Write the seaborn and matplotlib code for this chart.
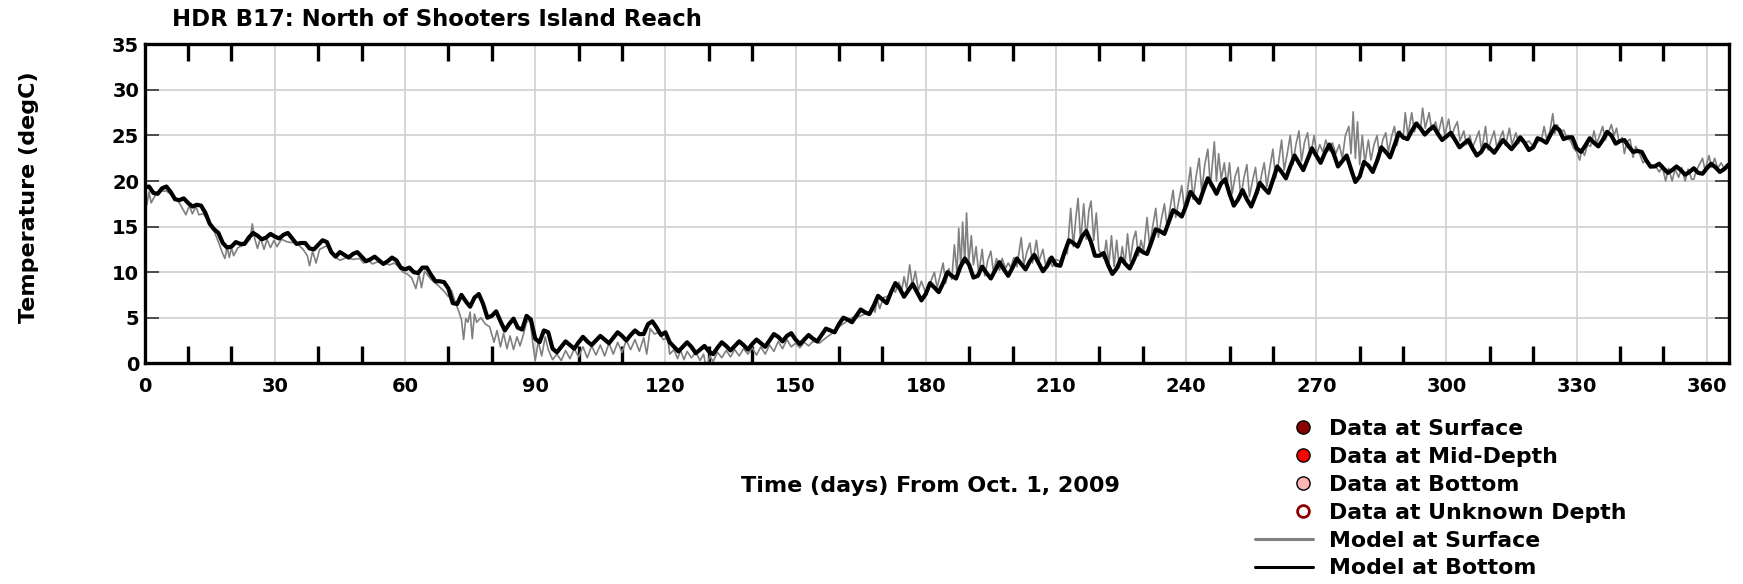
import matplotlib
matplotlib.use("Agg")
import matplotlib.pyplot as plt
from matplotlib.lines import Line2D
from matplotlib.legend_handler import HandlerLine2D
from matplotlib.ticker import FixedLocator
import seaborn as sns

# Model at bottom (black), one reading per day, days 0..365
bottom_day = list(range(366))
bottom_temp = [
    19.3, 19.4, 18.7, 18.6, 19.2, 19.4, 18.8, 18.0, 17.9, 18.1,   # 0
    17.6, 17.2, 17.4, 17.3, 16.5, 15.3, 14.7, 14.3, 13.2, 12.7,   # 10
    12.8, 13.3, 13.1, 13.1, 13.8, 14.3, 14.0, 13.6, 13.8, 14.2,   # 20
    13.9, 13.7, 14.1, 14.3, 13.7, 13.1, 13.2, 13.2, 12.6, 12.5,   # 30
    13.0, 13.5, 13.3, 12.2, 11.7, 12.2, 11.9, 11.6, 12.0, 12.2,   # 40
    11.7, 11.2, 11.4, 11.7, 11.3, 10.9, 11.2, 11.6, 11.3, 10.5,   # 50
    10.3, 10.5, 10.0, 9.9, 10.5, 10.5, 9.7, 9.0, 9.0, 8.9,        # 60
    8.2, 6.6, 6.5, 7.5, 6.8, 6.2, 7.2, 7.6, 6.5, 5.0,             # 70
    5.2, 5.7, 4.6, 3.6, 4.3, 4.9, 3.9, 3.7, 5.2, 4.8,             # 80
    2.7, 2.3, 3.6, 3.4, 1.6, 1.2, 1.8, 2.4, 2.0, 1.6,             # 90
    2.3, 2.9, 2.4, 2.0, 2.5, 3.0, 2.6, 2.2, 2.8, 3.4,             # 100
    3.0, 2.5, 3.1, 3.6, 3.2, 3.2, 4.3, 4.6, 3.9, 3.1,             # 110
    3.4, 2.3, 1.8, 1.3, 1.8, 2.3, 1.8, 1.1, 1.5, 1.9,             # 120
    1.3, 1.0, 1.7, 2.3, 1.9, 1.4, 1.9, 2.4, 2.0, 1.5,             # 130
    2.1, 2.6, 2.2, 1.8, 2.5, 3.2, 2.9, 2.4, 3.0, 3.3,             # 140
    2.6, 2.1, 2.6, 3.1, 2.7, 2.4, 3.1, 3.8, 3.6, 3.4,             # 150
    4.3, 5.0, 4.8, 4.5, 5.2, 5.9, 5.6, 5.4, 6.3, 7.4,             # 160
    7.0, 6.6, 7.8, 8.8, 8.2, 7.3, 8.0, 8.7, 7.8, 6.9,             # 170
    7.6, 8.8, 8.3, 7.8, 8.8, 10.0, 9.6, 9.3, 10.6, 11.5,          # 180
    10.8, 9.4, 9.6, 10.6, 9.9, 9.3, 10.2, 11.1, 10.3, 9.6,        # 190
    10.5, 11.5, 10.9, 10.3, 11.2, 11.9, 11.0, 10.1, 10.7, 11.6,   # 200
    10.8, 10.7, 12.2, 13.5, 13.2, 12.8, 13.9, 14.5, 13.4, 11.8,   # 210
    11.8, 12.1, 10.8, 9.8, 10.4, 11.5, 10.9, 10.4, 11.4, 12.6,    # 220
    12.2, 12.0, 13.3, 14.7, 14.5, 14.2, 15.5, 16.8, 16.5, 16.1,   # 230
    17.3, 18.8, 18.2, 17.6, 19.0, 20.3, 19.5, 18.6, 19.7, 20.2,   # 240
    18.6, 17.3, 18.0, 19.0, 18.0, 17.2, 18.4, 19.8, 19.2, 18.7,   # 250
    20.1, 21.6, 21.0, 20.3, 21.6, 22.8, 22.0, 21.2, 22.4, 23.6,   # 260
    22.8, 22.0, 23.1, 24.0, 23.0, 21.6, 22.2, 22.8, 21.3, 19.9,   # 270
    20.5, 22.1, 21.7, 21.0, 22.2, 23.7, 23.2, 22.6, 23.9, 25.3,   # 280
    24.8, 24.6, 25.5, 26.3, 25.8, 25.1, 25.6, 26.0, 25.2, 24.5,   # 290
    24.9, 25.3, 24.5, 23.7, 24.1, 24.5, 23.6, 22.8, 23.2, 24.0,   # 300
    23.6, 23.1, 23.8, 24.5, 24.0, 23.5, 24.1, 24.8, 24.2, 23.4,   # 310
    23.7, 24.7, 24.5, 24.2, 25.1, 26.0, 25.6, 24.6, 24.8, 24.8,   # 320
    23.6, 23.2, 23.9, 24.7, 24.2, 23.8, 24.5, 25.4, 25.0, 24.1,   # 330
    24.4, 24.5, 23.8, 23.2, 23.3, 23.2, 22.3, 21.6, 21.6, 21.9,   # 340
    21.4, 20.9, 21.2, 21.6, 21.2, 20.7, 21.0, 21.4, 20.9, 20.8,   # 350
    21.4, 21.9, 21.5, 21.0, 21.3, 21.8,                           # 360
]

# Model at surface (gray), spikes
surface_day = [
    0, 0.5, 1.0, 1.5, 2.5, 3.5, 5, 6.5, 8, 9.5, 10.3, 11, 11.8, 12.5, 13.5, 14.5, 16, 17, 18, 18.5,
    19, 19.5, 20, 20.5, 21.5, 23, 24.3, 24.8, 25.3, 26, 26.7, 27.5, 28.2, 29, 29.8, 30.5, 31.5, 33, 35, 36.5,
    37.5, 38, 38.7, 39.5, 40.3, 42, 43.5, 45, 46.5, 48, 49.5, 50.5, 51.5, 52.5, 53.5, 55, 56.5, 57.5, 58.5, 59.5,
    60.5, 61.5, 62.5, 63.2, 63.8, 64.5, 66, 67.5, 69, 70, 70.7, 71.5, 72.3, 73, 73.5, 74, 74.5, 75, 75.5, 76,
    76.5, 77.5, 78.5, 79.5, 80.5, 81.2, 82, 82.7, 83.5, 84.2, 85, 85.8, 86.5, 87.3, 88, 88.8, 89.5, 90, 90.7, 91.5,
    92.3, 93, 94, 95, 96, 97, 98, 99, 100, 101, 102, 103, 104, 105, 106, 107, 108, 109, 110, 111,
    112, 113, 114, 115, 115.7, 116.5, 117.5, 118.5, 119.5, 120.5, 121, 122, 122.8, 123.5, 124.3, 125, 126, 127, 128, 128.8,
    129.5, 130.2, 131, 132, 133, 134, 135, 136, 137, 138, 139, 140, 141, 142, 143, 144, 145, 146, 147, 148,
    149, 150, 151, 152, 153, 154, 155.5, 157, 158.5, 160, 161.5, 163, 164.5, 166, 167, 167.7, 168.3, 168.8, 169.4, 170.2,
    171.5, 172.3, 173, 173.8, 174.5, 175, 175.6, 176.3, 176.9, 177.6, 178.3, 179, 180, 181, 182, 182.6, 183.3, 184, 184.6, 185.3,
    186, 186.6, 187.2, 187.6, 188.1, 188.5, 189, 189.4, 189.9, 190.5, 191, 191.6, 192.2, 193, 193.6, 194.3, 195, 195.6, 196.3, 197,
    197.6, 198.4, 199, 199.6, 200.3, 201, 202, 202.6, 203.3, 204, 204.6, 205.5, 206.1, 207, 207.6, 208.4, 209.2, 210, 211, 212,
    212.6, 213.4, 214, 214.6, 215.1, 215.7, 216.4, 217, 217.6, 218.1, 218.7, 219.3, 219.9, 220.5, 221, 221.6, 222.2, 222.8, 223.4, 224,
    224.6, 225.3, 225.9, 226.5, 227.1, 227.8, 228.4, 229, 229.6, 230.2, 231, 231.6, 232.3, 233, 233.6, 234.3, 235, 235.6, 236.3, 237,
    237.6, 238.3, 239, 239.6, 240.3, 241, 241.6, 242.3, 243, 243.6, 244.3, 245, 245.6, 246.5, 247, 247.5, 248.1, 248.8, 249.4, 250,
    250.6, 251.3, 252, 252.6, 253.3, 254, 254.6, 255.3, 256, 256.6, 257.3, 258, 258.6, 259.3, 260, 260.6, 261.3, 262, 262.6, 263.3,
    264, 264.6, 265.3, 266, 266.6, 267.3, 268, 268.6, 269.5, 270.1, 270.8, 271.5, 272.2, 273, 273.7, 274.5, 275.3, 276, 276.7, 277.5,
    278, 278.5, 279, 279.5, 280, 280.6, 281.2, 282, 282.6, 283.3, 284, 284.6, 285.3, 286, 286.6, 287.3, 288, 288.6, 289.3, 290,
    290.5, 291.1, 292, 292.6, 293.3, 294, 294.5, 295.1, 296, 296.6, 297.5, 298.1, 299, 299.6, 300.5, 301.1, 301.8, 302.5, 303.1, 304,
    304.6, 305.4, 306, 306.8, 307.5, 308.1, 309, 309.6, 310.3, 311, 311.6, 312.3, 313, 313.6, 314.5, 315.1, 316, 316.6, 317.4, 318.2,
    319, 320, 321, 322, 322.5, 323.1, 323.8, 324.5, 325, 325.5, 326.1, 327, 327.8, 328.6, 329.3, 330, 330.7, 331.2, 331.8, 332.5,
    333.2, 334, 334.6, 335.3, 336, 336.6, 337.3, 338, 338.6, 339.2, 339.8, 340.5, 341, 341.6, 342.3, 343, 343.6, 344.5, 345.3, 346,
    347, 348, 349, 349.8, 350.5, 351.2, 352, 352.7, 353.5, 354.2, 355, 355.7, 356.5, 357, 357.6, 358.3, 359, 359.6, 360.5, 361.1,
    361.8, 362.5, 363.3, 364, 365,
]
surface_temp = [
    18.0, 17.4, 18.8, 17.6, 18.5, 18.9, 18.9, 18.4, 17.6, 16.3, 17.3, 16.4, 17.2, 16.3, 16.4, 15.8, 14.5, 13.3, 12.0, 11.5,
    12.8, 11.6, 12.7, 11.8, 12.7, 13.0, 13.6, 15.3, 13.8, 12.6, 13.8, 12.5, 13.6, 12.7, 13.5, 12.8, 13.6, 13.3, 13.2, 12.5,
    11.8, 10.7, 12.3, 11.0, 12.5, 12.9, 11.8, 11.3, 11.6, 11.4, 11.5, 11.0, 11.3, 10.9, 11.1, 11.0, 10.8, 11.0, 10.6, 10.0,
    9.8, 9.4, 8.2, 9.8, 8.3, 10.1, 9.2, 8.6, 7.9, 7.3, 8.0, 6.8, 5.8, 4.8, 2.6, 4.9, 4.5, 5.6, 2.7, 5.4,
    4.5, 5.0, 4.3, 4.0, 2.3, 3.6, 1.8, 3.3, 1.6, 3.0, 1.5, 2.9, 1.9, 3.2, 4.5, 4.8, 2.0, 0.3, 2.4, 0.8,
    2.9, 1.5, 0.4, 1.0, 0.3, 1.4, 0.5, 1.6, 0.7, 1.8, 0.6, 1.9, 0.9, 2.0, 0.8, 2.2, 1.0, 2.3, 1.2, 2.5,
    1.5, 2.6, 1.3, 2.8, 1.0, 3.8, 3.2, 3.4, 2.6, 2.8, 1.0, 1.5, 0.5, 1.4, 0.4, 1.3, 0.6, 1.2, 0.3, 1.0,
    -0.6, 0.8, 0.2, 1.2, 0.6, 1.4, 0.7, 1.5, 0.8, 1.6, 1.0, 1.7, 0.9, 1.8, 1.0, 2.0, 1.3, 2.4, 1.6, 2.6,
    1.8, 2.2, 1.7, 2.3, 1.9, 2.4, 2.2, 2.8, 3.3, 4.0, 4.5, 5.0, 5.1, 5.4, 5.5, 6.3, 5.6, 7.0, 6.0, 7.2,
    7.4, 8.2, 7.8, 8.9, 8.1, 9.5, 8.2, 10.8, 8.5, 10.1, 8.0, 9.0, 7.7, 8.8, 10.0, 8.3, 9.6, 11.0, 8.8, 10.4,
    9.2, 13.0, 9.8, 14.8, 10.5, 15.5, 11.0, 16.5, 11.0, 14.0, 10.8, 12.8, 9.8, 12.5, 9.6, 11.3, 12.3, 10.0, 11.5, 10.2,
    11.5, 10.4, 11.0, 10.5, 11.6, 10.6, 13.8, 10.8, 12.2, 13.2, 11.0, 13.5, 11.2, 12.5, 10.8, 11.6, 10.6, 11.4, 11.2, 12.5,
    12.0, 17.0, 12.8, 16.0, 18.1, 13.4, 17.5, 13.6, 16.8, 17.8, 13.5, 16.5, 12.4, 12.0, 11.5, 13.5, 10.8, 14.0, 10.6, 13.5,
    10.5, 12.8, 10.8, 14.2, 11.2, 13.5, 14.5, 11.8, 13.5, 12.3, 16.0, 12.8, 15.0, 17.0, 13.8, 15.8, 17.5, 15.0, 17.0, 19.0,
    16.0, 17.8, 19.5, 17.0, 18.8, 21.5, 18.0, 20.5, 22.5, 18.8, 21.8, 23.5, 19.4, 24.3, 20.0, 23.0, 20.2, 22.0, 19.5, 22.0,
    18.6, 20.5, 21.5, 18.2, 20.3, 21.8, 18.3, 20.0, 21.5, 18.6, 20.5, 22.0, 19.4, 21.5, 23.5, 20.3, 22.0, 24.5, 21.2, 23.0,
    25.0, 21.8, 24.0, 25.5, 22.2, 24.3, 25.3, 22.6, 25.0, 22.9, 24.0, 23.2, 24.5, 23.3, 24.2, 23.0, 24.0, 22.5, 25.0, 26.0,
    23.0, 27.6, 22.5, 26.5, 21.8, 25.0, 22.0, 24.5, 22.3, 24.0, 25.0, 22.6, 24.5, 25.3, 23.2, 24.8, 26.0, 23.9, 25.5, 24.6,
    27.5, 25.0, 27.5, 25.4, 26.5, 25.7, 28.0, 25.8, 27.5, 25.6, 26.5, 25.2, 27.0, 25.0, 26.8, 24.8, 25.8, 26.5, 24.4, 25.5,
    24.0, 25.0, 23.7, 24.6, 25.5, 23.3, 26.0, 23.4, 24.5, 25.5, 23.7, 24.6, 25.5, 23.9, 25.8, 24.0, 25.3, 24.1, 24.8, 24.2,
    24.4, 23.8, 24.3, 24.8, 26.0, 24.6, 25.4, 27.4, 25.2, 26.2, 25.4, 25.6, 24.7, 24.4, 23.6, 23.2, 22.3, 23.5, 22.8, 24.0,
    23.8, 25.5, 24.1, 25.0, 26.0, 24.5, 25.3, 26.2, 25.0, 25.8, 24.2, 24.8, 23.0, 24.3, 24.6, 22.6, 23.8, 23.0, 22.0, 22.4,
    21.4, 21.8, 21.0, 21.5, 20.0, 21.4, 20.0, 21.3, 20.4, 21.5, 20.0, 21.3, 20.2, 20.2, 21.2, 21.8, 22.5, 21.2, 22.8, 21.5,
    22.5, 21.4, 22.0, 21.3, 21.9,
]

legend_labels = ["Data at Surface", "Data at Mid-Depth", "Data at Bottom",
                 "Data at Unknown Depth", "Model at Surface", "Model at Bottom"]
x_major = list(range(0, 361, 30))
x_minor = [d for d in range(10, 365, 10) if d % 30 != 0]
y_major = list(range(0, 36, 5))


# legend markers sit near the right end of the handle, like the original
class RightMarkerHandler(HandlerLine2D):
    def create_artists(self, legend, orig_handle, xdescent, ydescent, width, height, fontsize, trans):
        artists = super().create_artists(legend, orig_handle, xdescent, ydescent,
                                         width, height, fontsize, trans)
        for a in artists:
            if a.get_marker() not in (None, "None", "", " "):
                a.set_xdata([x + 0.33 * width for x in a.get_xdata()])
        return artists


sns.set_theme(style="white")
plt.rcParams["font.family"] = ["DejaVu Sans"]
plt.rcParams["font.weight"] = "bold"
plt.rcParams["text.color"] = "black"
plt.rcParams["xtick.color"] = "black"
plt.rcParams["ytick.color"] = "black"
plt.rcParams["axes.labelcolor"] = "black"

fig = plt.figure(figsize=(17.43, 5.84), dpi=100)
ax = fig.add_axes([0.083, 0.378, 0.9087, 0.546])

sns.lineplot(x=surface_day, y=surface_temp, ax=ax, color="#808080", linewidth=1.2,
             estimator=None, sort=False)
sns.lineplot(x=bottom_day, y=bottom_temp, ax=ax, color="black", linewidth=3.0,
             estimator=None, sort=False)

ax.set_xlim(0, 365)
ax.set_ylim(0, 35)
ax.xaxis.set_major_locator(FixedLocator(x_major))
ax.xaxis.set_minor_locator(FixedLocator(x_minor))
ax.yaxis.set_major_locator(FixedLocator(y_major))
ax.grid(True, which="major", color="#d0d0d0", linewidth=1.2)
ax.set_axisbelow(True)
ax.tick_params(axis="x", which="major", length=0, pad=10, labelsize=14, labelcolor="black")
ax.tick_params(axis="x", which="minor", direction="in", length=12, width=2.4,
               top=True, bottom=True, color="black")
ax.tick_params(axis="y", which="major", direction="in", length=10, width=1.2,
               left=True, right=True, color="#333333", labelsize=14, pad=4, labelcolor="black")
for lab in ax.get_xticklabels() + ax.get_yticklabels():
    lab.set_fontweight("bold")
for sp in ax.spines.values():
    sp.set_linewidth(2.4)
    sp.set_color("black")
ax.set_xlabel("")
ax.set_ylabel("")

fig.text(0.0166, 0.662, "Temperature (degC)", fontsize=16, fontweight="bold",
         rotation=90, ha="center", va="center", color="black")
fig.text(0.0988, 0.966, "HDR B17: North of Shooters Island Reach", fontsize=16.4,
         fontweight="bold", ha="left", va="center", color="black")
fig.text(0.534, 0.168, "Time (days) From Oct. 1, 2009", fontsize=16,
         fontweight="bold", ha="center", va="center", color="black")

handles = [
    Line2D([], [], marker="o", ls="none", markersize=9.5, markerfacecolor="#8b0000", markeredgecolor="black"),
    Line2D([], [], marker="o", ls="none", markersize=9.5, markerfacecolor="#ff0000", markeredgecolor="black"),
    Line2D([], [], marker="o", ls="none", markersize=9.5, markerfacecolor="#ffb6b6", markeredgecolor="black"),
    Line2D([], [], marker="o", ls="none", markersize=8.5, markerfacecolor="white", markeredgecolor="#8b0000",
           markeredgewidth=2),
    Line2D([], [], color="#808080", lw=2.2),
    Line2D([], [], color="black", lw=2.2),
]
fig.legend(handles, legend_labels, loc="upper left", bbox_to_anchor=(0.72, 0.2826),
           frameon=False, prop={"weight": "bold", "size": 15.8}, numpoints=1,
           handler_map={Line2D: RightMarkerHandler()}, labelcolor="black",
           handlelength=2.65, handletextpad=0.73, labelspacing=0.36, borderpad=0, borderaxespad=0)

fig.savefig("out.png", dpi=100)
